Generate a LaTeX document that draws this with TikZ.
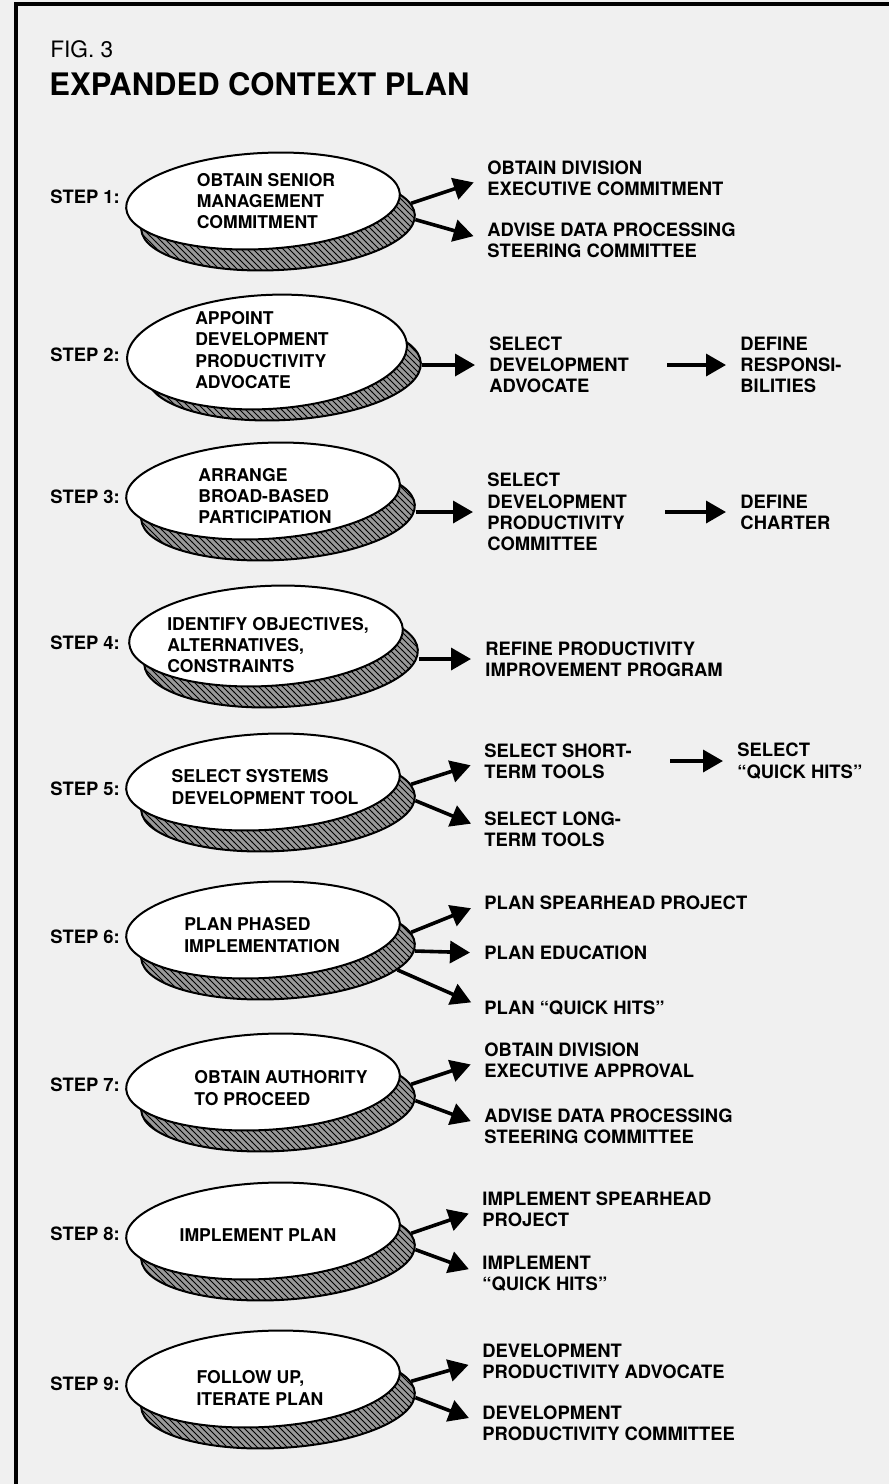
\documentclass[tikz,border=0pt]{standalone}
\usepackage{fontspec}
\setmainfont{TeX Gyre Heros}
\usetikzlibrary{arrows.meta,shapes.geometric,patterns}

\begin{document}
\begin{tikzpicture}[
    x=0.5pt, y=-0.5pt,
    steplabel/.style={anchor=west, inner sep=0pt, font=\bfseries\fontsize{9.2}{10.6}\selectfont},
    oval/.style={ellipse, rotate=3, draw, line width=1pt, fill=white, minimum width=137pt, minimum height=48pt, inner sep=0pt},
    ovalshade/.style={oval, fill=black!40, postaction={pattern=north west lines}},
    ovaltext/.style={align=left, inner sep=0pt, font=\bfseries\fontsize{8.8}{10.6}\selectfont},
    task/.style={anchor=west, align=left, inner sep=0pt, font=\bfseries\fontsize{9.2}{10.6}\selectfont},
    arrow/.style={-{Triangle[length=10pt,width=11pt]}, line width=1.8pt, shorten >=7pt},
    chain/.style={arrow, shorten <=19pt}
]
    \fill[black!6] (0,0) rectangle (889,1484);
    \useasboundingbox (0,0) rectangle (889,1484);
    \draw[line width=1.8pt] (16,1484) -- (16,4) -- (889,4);

    \node[anchor=west, inner sep=0pt, font=\fontsize{11.3}{13}\selectfont] (fig) at (50,49) {FIG. 3};
    \node[anchor=west, inner sep=0pt, font=\bfseries\fontsize{15.5}{18}\selectfont] (title) at (49,84) {EXPANDED CONTEXT PLAN};

    % step 1
    \node[steplabel] (l1) at (50,197) {STEP 1:};
    \node[ovalshade] (h1) at (278,222) {};
    \node[oval] (o1) at (263,201) {};
    \node[ovaltext] (t1) at (266,201) {OBTAIN SENIOR\\MANAGEMENT\\COMMITMENT};
    \node[task] (r1a) at (487,178) {OBTAIN DIVISION\\EXECUTIVE COMMITMENT};
    \node[task] (r1b) at (487,240) {ADVISE DATA PROCESSING\\STEERING COMMITTEE};
    \draw[arrow] (h1.5) -- (r1a.west);
    \draw[arrow] (h1.-2) -- (r1b.west);

    % step 2
    \node[steplabel] (l2) at (50,355) {STEP 2:};
    \node[ovalshade, minimum height=50pt] (h2) at (284,370) {};
    \node[oval, minimum width=140pt, minimum height=57pt] (o2) at (267,352) {};
    \node[ovaltext] (t2) at (262,350) {APPOINT\\DEVELOPMENT\\PRODUCTIVITY\\ADVOCATE};
    \node[task] (r2a) at (489,365) {SELECT\\DEVELOPMENT\\ADVOCATE};
    \node[task] (r2b) at (740,365) {DEFINE\\RESPONSI-\\BILITIES};
    \draw[arrow] (r2a.west -| h2.east) -- (r2a.west);
    \draw[chain] (r2a.east) -- (r2b.west);

    % step 3
    \node[steplabel] (l3) at (50,497) {STEP 3:};
    \node[ovalshade] (h3) at (278,512) {};
    \node[oval] (o3) at (263,491) {};
    \node[ovaltext] (t3) at (265,496) {ARRANGE\\BROAD-BASED\\PARTICIPATION};
    \node[task] (r3a) at (487,512) {SELECT\\DEVELOPMENT\\PRODUCTIVITY\\COMMITTEE};
    \node[task] (r3b) at (740,512) {DEFINE\\CHARTER};
    \draw[arrow] (r3a.west -| h3.east) -- (r3a.west);
    \draw[chain] (r3a.east) -- (r3b.west);

    % step 4
    \node[steplabel] (l4) at (50,643) {STEP 4:};
    \node[ovalshade, minimum height=50pt] (h4) at (281,657) {};
    \node[oval, minimum height=50pt] (o4) at (266,636) {};
    \node[ovaltext] (t4) at (268,645) {IDENTIFY OBJECTIVES,\\ALTERNATIVES,\\CONSTRAINTS};
    \node[task] (r4a) at (485,659) {REFINE PRODUCTIVITY\\IMPROVEMENT PROGRAM};
    \draw[arrow] (r4a.west -| h4.east) -- (r4a.west);

    % step 5
    \node[steplabel] (l5) at (50,789) {STEP 5:};
    \node[ovalshade] (h5) at (278,803) {};
    \node[oval] (o5) at (263,782) {};
    \node[ovaltext] (t5) at (265,787) {SELECT SYSTEMS\\DEVELOPMENT TOOL};
    \node[task] (r5a) at (484,761) {SELECT SHORT-\\TERM TOOLS};
    \node[task] (r5b) at (737,761) {SELECT\\``QUICK HITS''};
    \node[task] (r5c) at (484,829) {SELECT LONG-\\TERM TOOLS};
    \draw[arrow] (h5.5) -- (r5a.west);
    \draw[arrow] (h5.-2) -- (r5c.west);
    \draw[chain] (r5a.east) -- (r5b.west);

    % step 6
    \node[steplabel] (l6) at (50,937) {STEP 6:};
    \node[ovalshade] (h6) at (278,951) {};
    \node[oval] (o6) at (263,930) {};
    \node[ovaltext] (t6) at (262,935) {PLAN PHASED\\IMPLEMENTATION};
    \node[task] (r6a) at (484,903) {PLAN SPEARHEAD PROJECT};
    \node[task] (r6b) at (484,953) {PLAN EDUCATION};
    \node[task] (r6c) at (484,1008) {PLAN ``QUICK HITS''};
    \draw[arrow] (h6.5) -- (r6a.west);
    \draw[arrow] (h6.-3) -- (r6b.west);
    \draw[arrow] (h6.-12) -- (r6c.west);

    % step 7
    \node[steplabel] (l7) at (50,1085) {STEP 7:};
    \node[ovalshade] (h7) at (278,1103) {};
    \node[oval] (o7) at (263,1082) {};
    \node[ovaltext] (t7) at (281,1088) {OBTAIN AUTHORITY\\TO PROCEED};
    \node[task] (r7a) at (484,1060) {OBTAIN DIVISION\\EXECUTIVE APPROVAL};
    \node[task] (r7b) at (484,1126) {ADVISE DATA PROCESSING\\STEERING COMMITTEE};
    \draw[arrow] (h7.5) -- (r7a.west);
    \draw[arrow] (h7.-2) -- (r7b.west);

    % step 8
    \node[steplabel] (l8) at (50,1234) {STEP 8:};
    \node[ovalshade] (h8) at (278,1252) {};
    \node[oval] (o8) at (263,1231) {};
    \node[ovaltext] (t8) at (258,1235) {IMPLEMENT PLAN};
    \node[task] (r8a) at (482,1209) {IMPLEMENT SPEARHEAD\\PROJECT};
    \node[task] (r8b) at (482,1274) {IMPLEMENT\\``QUICK HITS''};
    \draw[arrow] (h8.5) -- (r8a.west);
    \draw[arrow] (h8.-2) -- (r8b.west);

    % step 9
    \node[steplabel] (l9) at (50,1384) {STEP 9:};
    \node[ovalshade] (h9) at (278,1400) {};
    \node[oval] (o9) at (263,1379) {};
    \node[ovaltext] (t9) at (260,1388) {FOLLOW UP,\\ITERATE PLAN};
    \node[task] (r9a) at (482,1361) {DEVELOPMENT\\PRODUCTIVITY ADVOCATE};
    \node[task] (r9b) at (482,1423) {DEVELOPMENT\\PRODUCTIVITY COMMITTEE};
    \draw[arrow] (h9.5) -- (r9a.west);
    \draw[arrow] (h9.-2) -- (r9b.west);
\end{tikzpicture}
\end{document}
